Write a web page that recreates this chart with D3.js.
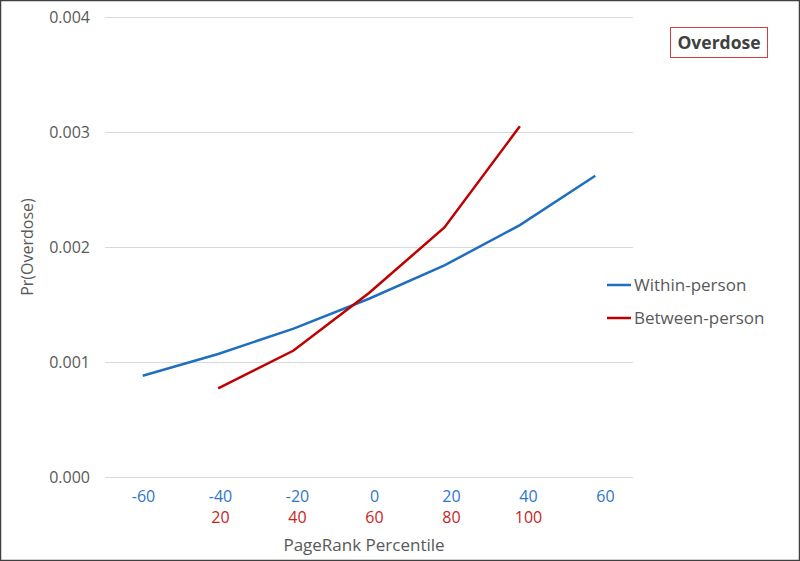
<!DOCTYPE html>
<html><head><meta charset="utf-8">
<script src="https://cdn.jsdelivr.net/npm/d3@7"></script>
<style>body{margin:0;background:#fff}svg{display:block}text{font-family:"Open Sans",Lato,sans-serif}</style>
</head><body><svg id="c" width="800" height="561"></svg>
<script>
const withinLabels = ["-60","-40","-20","0","20","40","60"];
const betweenLabels = ["","20","40","60","80","100",""];
const withinValues = [0.00088,0.00107,0.00129,0.00155,0.00184,0.00219,0.00262];
const betweenCats = ["-40","-20","0","20","40"];
const betweenValues = [0.00077,0.00110,0.00160,0.00217,0.00305];
const yTicks = [0,0.001,0.002,0.003,0.004];
const seriesNames = ["Within-person","Between-person"];
const colors = ["#1F6FBF","#C00000"];

const svg = d3.select("#c");
const m = {l:105, r:633, t:17, b:477};
const x = d3.scaleBand().domain(withinLabels).range([m.l,m.r]);
const xc = d => x(d) + x.bandwidth()/2;
const xl = d3.scalePoint().domain(withinLabels).range([143,605]);
const y = d3.scaleLinear().domain([0,0.004]).range([m.b,m.t]);

svg.append("rect").attr("x",0.5).attr("y",0.5).attr("width",799).attr("height",560)
  .attr("fill","#fff").attr("stroke","#404040").attr("stroke-width",1.5);

// gridlines
svg.append("g").selectAll("line").data(yTicks).join("line")
  .attr("x1",m.l).attr("x2",m.r).attr("y1",d=>Math.round(y(d))+0.5).attr("y2",d=>Math.round(y(d))+0.5)
  .attr("stroke","#d9d9d9").attr("stroke-width",1);

// y axis labels
const yAxis = d3.axisLeft(y).tickValues(yTicks).tickFormat(d3.format(".3f")).tickSize(0).tickPadding(0);
const ya = svg.append("g").attr("transform",`translate(90,0)`).call(yAxis);
ya.select(".domain").remove();
ya.selectAll("text").attr("fill","#595959").style("font-size","16px").attr("text-anchor","end").attr("dy","0.35em");

// x axis rows
const xAxis1 = d3.axisBottom(xl).tickSize(0).tickPadding(0);
const xa1 = svg.append("g").attr("transform",`translate(0,491)`).call(xAxis1);
xa1.select(".domain").remove();
xa1.selectAll("text").attr("fill","#2E75CF").style("font-size","16px").attr("dy","0.71em");

const xAxis2 = d3.axisBottom(xl).tickSize(0).tickPadding(0).tickFormat((d,i)=>betweenLabels[i]);
const xa2 = svg.append("g").attr("transform",`translate(0,512)`).call(xAxis2);
xa2.select(".domain").remove();
xa2.selectAll("text").attr("fill","#C81E1E").style("font-size","16px").attr("dy","0.71em");

// axis titles
svg.append("text").attr("x",364).attr("y",551).attr("text-anchor","middle")
  .attr("fill","#595959").style("font-size","17px").text("PageRank Percentile");
svg.append("text").attr("transform","translate(33,247) rotate(-90)").attr("text-anchor","middle")
  .attr("fill","#595959").style("font-size","16px").text("Pr(Overdose)");

// lines
const line = d3.line().x(d=>xc(d[0])).y(d=>y(d[1]));
svg.append("path").datum(withinLabels.map((c,i)=>[c,withinValues[i]]))
  .attr("d",line).attr("fill","none").attr("stroke",colors[0]).attr("stroke-width",2.5);
svg.append("path").datum(betweenCats.map((c,i)=>[c,betweenValues[i]]))
  .attr("d",line).attr("fill","none").attr("stroke",colors[1]).attr("stroke-width",2.5);

// legend
const lg = svg.append("g");
seriesNames.forEach((n,i)=>{
  const yy = 285 + i*33;
  lg.append("line").attr("x1",607).attr("x2",631).attr("y1",yy).attr("y2",yy)
    .attr("stroke",colors[i]).attr("stroke-width",2.5);
  lg.append("text").attr("x",634).attr("y",yy).attr("dy","0.35em")
    .attr("fill","#595959").style("font-size","17px").text(n);
});

// title box
svg.append("rect").attr("x",670.5).attr("y",27.5).attr("width",97).attr("height",30)
  .attr("fill","#fff").attr("stroke","#D04040").attr("stroke-width",1);
svg.append("text").attr("x",719).attr("y",43).attr("dy","0.35em").attr("text-anchor","middle")
  .attr("fill","#404040").style("font-size","17.5px").style("font-weight","bold").text("Overdose");
</script></body></html>
